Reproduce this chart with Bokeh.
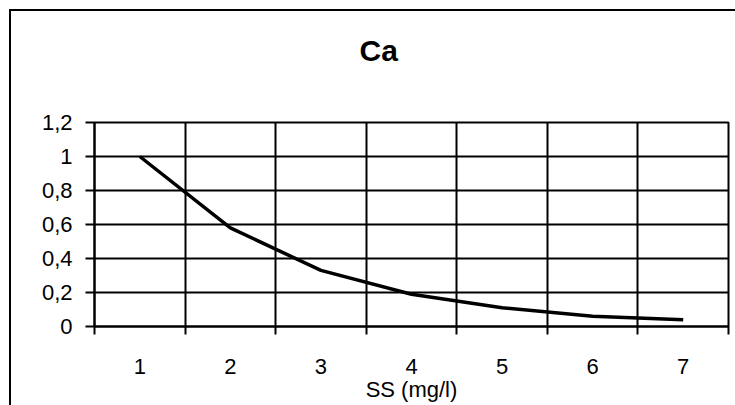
from bokeh.plotting import figure
from bokeh.models import Range1d, FixedTicker, CustomJSTickFormatter
from bokeh.embed import file_html
from bokeh.resources import INLINE

# ---- data ----
categories = [1, 2, 3, 4, 5, 6, 7]
ca_values = [1.0, 0.58, 0.33, 0.19, 0.11, 0.06, 0.04]
y_ticks = [0, 0.2, 0.4, 0.6, 0.8, 1.0, 1.2]
title_text = "Ca"
x_title = "SS (mg/l)"

boundaries = [c - 0.5 for c in categories] + [categories[-1] + 0.5]

FONT = "Liberation Sans"

p = figure(width=735, height=405, output_backend="svg", toolbar_location=None,
           x_range=Range1d(boundaries[0], boundaries[-1]),
           y_range=Range1d(y_ticks[0], y_ticks[-1]),
           min_border_left=94, min_border_right=7,
           min_border_top=122, min_border_bottom=79)

p.border_fill_color = None
p.background_fill_color = "white"
p.outline_line_color = "black"
p.outline_line_width = 2
p.styles = {
    "background": "linear-gradient(#000,#000) 9px 9px / 2px 100% no-repeat, "
                  "linear-gradient(#000,#000) 9px 9px / 100% 2px no-repeat, #fff"
}

xa = p.below[0]
ya = p.left[0]

# chart title (an empty second line lifts it well above the plot frame)
p.title.text = title_text + "\n"
p.title.align = "left"
p.title.offset = 265
p.title.standoff = 46
p.title.text_font = FONT
p.title.text_font_size = "30px"
p.title.text_font_style = "bold"
p.title.text_color = "black"

# x axis
xa.ticker = FixedTicker(ticks=categories, minor_ticks=boundaries)
xa.major_tick_out = 0
xa.major_tick_in = 0
xa.minor_tick_out = 8
xa.minor_tick_in = 0
xa.minor_tick_line_color = "black"
xa.minor_tick_line_width = 2
xa.axis_line_color = "black"
xa.axis_line_width = 2
xa.major_label_text_font = FONT
xa.major_label_text_font_size = "22px"
xa.major_label_text_color = "black"
xa.major_label_standoff = 24
xa.axis_label = x_title
xa.axis_label_text_font = FONT
xa.axis_label_text_font_size = "22px"
xa.axis_label_text_font_style = "normal"
xa.axis_label_text_color = "black"
xa.axis_label_standoff = 0

# y axis
ya.ticker = FixedTicker(ticks=y_ticks, minor_ticks=[])
ya.formatter = CustomJSTickFormatter(code="return (Math.round(tick*10)/10).toString().replace('.', ',');")
ya.major_tick_out = 9
ya.major_tick_in = 0
ya.major_tick_line_color = "black"
ya.major_tick_line_width = 2
ya.minor_tick_line_color = None
ya.axis_line_color = "black"
ya.axis_line_width = 2
ya.major_label_text_font = FONT
ya.major_label_text_font_size = "22px"
ya.major_label_text_color = "black"
ya.major_label_standoff = 13

# grids (x grid = category boundaries)
p.xgrid.grid_line_color = None
p.xgrid.minor_grid_line_color = "black"
p.xgrid.minor_grid_line_width = 2
p.ygrid.grid_line_color = "black"
p.ygrid.grid_line_width = 2

p.line(categories, ca_values, line_color="black", line_width=3.5)

open("out.html", "w").write(file_html(p, INLINE))
